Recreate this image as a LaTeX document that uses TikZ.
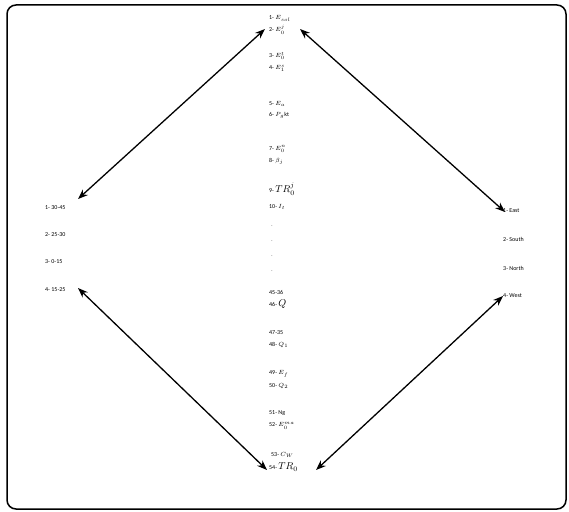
\documentclass[tikz,border=0pt]{standalone}
\usepackage{fontspec}
\setmainfont{Carlito}
\usetikzlibrary{arrows.meta}
\begin{document}
\begin{tikzpicture}[x=1pt,y=-1pt,
  lbl/.style={anchor=west,inner sep=0pt,font=\fontsize{6}{6.5}\selectfont},
  pair/.style={anchor=west,inner sep=0pt,align=left,font=\fontsize{6}{12}\selectfont},
  dbl/.style={{Stealth[length=10pt,width=7.5pt]}-{Stealth[length=10pt,width=7.5pt]},line width=1.3pt},
  frame/.style={draw,line width=1.5pt,rounded corners=9pt}]
\useasboundingbox (0,0) rectangle (569,511);
\draw[frame] (7,5) rectangle (566,509);
% centre column
\node[pair] (c12) at (269,25) {1- $E_{sol}$\\2- $E_0^j$};
\node[pair] (c34) at (269,62) {3- $E_0^t$\\4- $E_1^s$};
\node[lbl] (c5) at (269,104) {5- $E_a$};
\node[lbl] (c6) at (269,115) {6- $P_g$kt};
\node[pair] (c78) at (269,155) {7- $E_0^n$\\8- $\beta_j$};
\node[lbl] (c9) at (269,189) {9- {\fontsize{10}{10}\selectfont$TR_0^j$}};
\node[lbl] (c10) at (269,207) {10- $I_t$};
\foreach \yy [count=\i] in {226,241,256,271}
  \node[inner sep=0pt,font=\fontsize{5}{5}\selectfont] (d\i) at (272,\yy) {.};
\node[lbl] (c45) at (269,292) {45-36};
\node[lbl] (c46) at (269,304) {46- {\fontsize{10}{10}\selectfont$Q$}};
\node[lbl] (c47) at (269,333) {47-35};
\node[lbl] (c48) at (269,345) {48- $Q_1$};
\node[lbl] (c49) at (269,374) {49- $E_f$};
\node[lbl] (c50) at (269,386) {50- $Q_2$};
\node[pair] (c5152) at (269,420) {51- Ng\\52- $E_0^{ma}$};
\node[lbl] (c53) at (271,455) {53- $C_W$};
\node[lbl] (c54) at (269,467) {54- {\fontsize{10}{10}\selectfont$TR_0$}};
% left column
\node[lbl] (l1) at (45,208) {1- 30-45};
\node[lbl] (l2) at (45,235) {2- 25-30};
\node[lbl] (l3) at (45,262) {3- 0-15};
\node[lbl] (l4) at (45,290) {4- 15-25};
% right column
\node[lbl] (r1) at (503,211) {1- East};
\node[lbl] (r2) at (503,239) {2- South};
\node[lbl] (r3) at (503,268) {3- North};
\node[lbl] (r4) at (503,296) {4- West};
% arrow end points
\coordinate (tl) at (265,29);
\coordinate (tr) at (300,29);
\coordinate (lt) at (78,199);
\coordinate (lb) at (78,288);
\coordinate (rt) at (505,212);
\coordinate (rb) at (503,296);
\coordinate (bl) at (267,470);
\coordinate (br) at (316,470);
\draw[dbl] (tl) -- (lt);
\draw[dbl] (tr) -- (rt);
\draw[dbl] (lb) -- (bl);
\draw[dbl] (rb) -- (br);
\end{tikzpicture}
\end{document}
